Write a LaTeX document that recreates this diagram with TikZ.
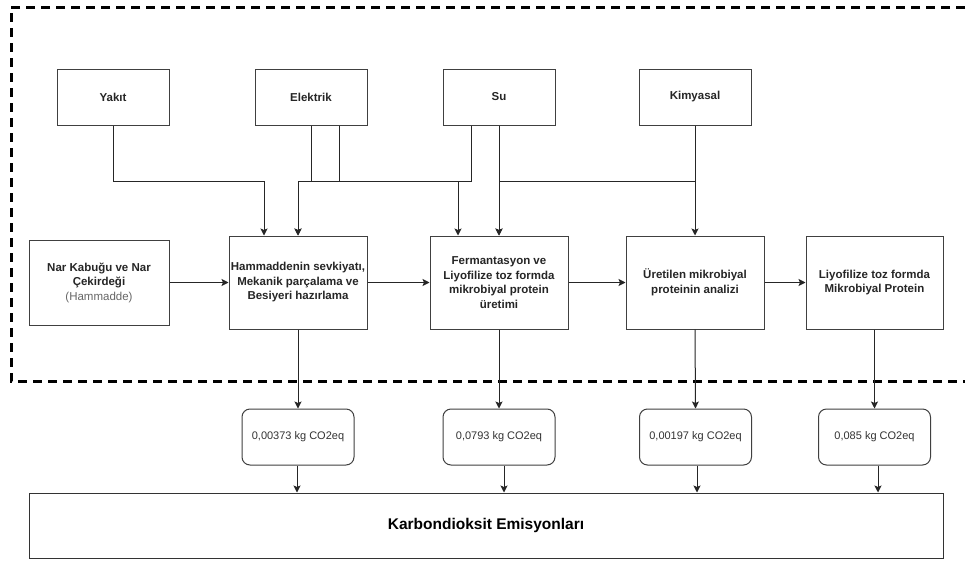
\documentclass[tikz,border=0pt]{standalone}
\usepackage{fontspec}
\setmainfont{Liberation Sans}
\usepackage{xcolor}
\usetikzlibrary{arrows.meta}

\begin{document}
\begin{tikzpicture}[x=1pt,y=-1pt,
box/.style={draw=black!75,line width=1pt,inner sep=0pt,align=center,font=\fontsize{11.5}{14.5}\selectfont\bfseries,text=black!85},
src/.style={box,minimum width=112pt,minimum height=56pt},
proc/.style={box,minimum width=138pt,minimum height=93pt},
co/.style={draw=black!75,line width=1pt,rounded corners=8pt,minimum width=112pt,minimum height=56pt,inner sep=0pt,font=\fontsize{11}{13}\selectfont,text=black!80},
arr/.style={-{Stealth[length=7pt,width=7pt,inset=1.5pt]},line width=1pt,draw=black!85}]
\useasboundingbox[fill=white] (0,0) rectangle (967,560);
% system boundary
\draw[line width=3pt,dash pattern=on 9pt off 6pt] (965,7) -- (11,7) -- (11,381) -- (965,381);
% inputs
\node[src] (yakit) at (113,97) {Yakıt};
\node[src] (elek) at (311,97) {Elektrik};
\node[src] (su) at (499,97) {Su};
\node[src] (kim) at (695,97) {Kimyasal};
% process chain
\node[box,minimum width=140pt,minimum height=85pt] (nar) at (99,282.5) {Nar Kabuğu ve Nar\\Çekirdeği\\{\mdseries\color{black!60}(Hammadde)}};
\node[proc] (ham) at (298,282.5) {Hammaddenin sevkiyatı,\\Mekanik parçalama ve\\Besiyeri hazırlama};
\node[proc] (ferm) at (499,282.5) {Fermantasyon ve\\Liyofilize toz formda\\mikrobiyal protein\\üretimi};
\node[proc] (anal) at (695,282.5) {Üretilen mikrobiyal\\proteinin analizi};
\node[proc,minimum width=137pt] (urun) at (874.5,282.5) {Liyofilize toz formda\\Mikrobiyal Protein};
% emissions
\node[co] (e1) at (298,437) {0,00373 kg CO2eq};
\node[co] (e2) at (499,437) {0,0793 kg CO2eq};
\node[co] (e3) at (695.5,437) {0,00197 kg CO2eq};
\node[co] (e4) at (874.5,437) {0,085 kg CO2eq};
\node[draw=black!80,line width=1pt,minimum width=914pt,minimum height=65pt,inner sep=0pt,font=\fontsize{15.5}{18}\selectfont\bfseries] (emis) at (486,525.5) {Karbondioksit Emisyonları};

\draw[arr] (yakit.south) -- ++(0,56) -| ([xshift=-34pt]ham.north);
\draw[arr] (elek.south) -- ++(0,56) -| (ham.north);
\draw[arr] ([xshift=28pt]elek.south) -- ++(0,56) -| ([xshift=-41pt]ferm.north);
\draw[arr] ([xshift=-28pt]su.south) -- ++(0,56) -| (ham.north);
\draw[arr] (su) -- (ferm);
\draw[arr] (kim.south) -- ++(0,56) -| (ferm.north);
\draw[arr] (kim) -- (anal);

\draw[arr] (nar) -- (ham); \draw[arr] (ham) -- (ferm); \draw[arr] (ferm) -- (anal); \draw[arr] (anal) -- (urun);
\draw[arr] (ham) -- (e1); \draw[arr] (ferm) -- (e2); \draw[arr] (anal.south) -- (e3.north); \draw[arr] (urun) -- (e4);
\foreach \e/\dx in {e1/-1,e2/5,e3/1.5,e4/3.5}
  \draw[arr] ([xshift=\dx pt]\e.south) -- ([xshift=\dx pt]\e.south |- emis.north);
\end{tikzpicture}
\end{document}
